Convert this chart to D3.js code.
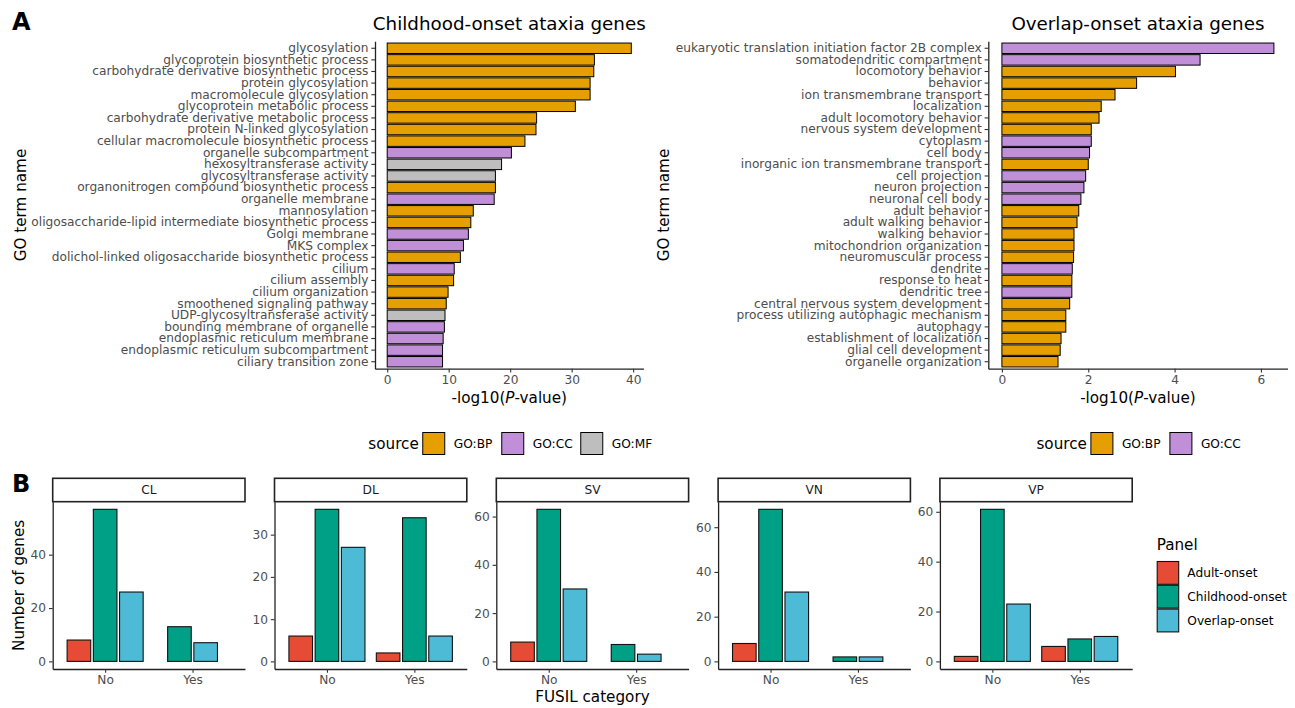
<!DOCTYPE html>
<html>
<head>
<meta charset="utf-8">
<script src="https://cdn.jsdelivr.net/npm/d3@7"></script>
<style>
  html, body { margin: 0; padding: 0; background: #fff; }
  svg { display: block; font-family: "DejaVu Sans", sans-serif; }
</style>
</head>
<body>
<svg id="fig" width="1295" height="708"></svg>
<script>
// ---- A: GO enrichment, childhood-onset genes ----
const childTerms = [
  "glycosylation", "glycoprotein biosynthetic process", "carbohydrate derivative biosynthetic process",
  "protein glycosylation", "macromolecule glycosylation", "glycoprotein metabolic process",
  "carbohydrate derivative metabolic process", "protein N-linked glycosylation",
  "cellular macromolecule biosynthetic process", "organelle subcompartment",
  "hexosyltransferase activity", "glycosyltransferase activity",
  "organonitrogen compound biosynthetic process", "organelle membrane", "mannosylation",
  "oligosaccharide-lipid intermediate biosynthetic process", "Golgi membrane", "MKS complex",
  "dolichol-linked oligosaccharide biosynthetic process", "cilium", "cilium assembly",
  "cilium organization", "smoothened signaling pathway", "UDP-glycosyltransferase activity",
  "bounding membrane of organelle", "endoplasmic reticulum membrane",
  "endoplasmic reticulum subcompartment", "ciliary transition zone"
];
const childValues = [
  39.7, 33.7, 33.6, 33.0, 33.0, 30.6, 24.3, 24.2, 22.4, 20.2, 18.6, 17.6, 17.6, 17.4,
  14.0, 13.6, 13.2, 12.4, 11.9, 10.9, 10.8, 9.9, 9.6, 9.4, 9.3, 9.1, 9.0, 9.0
];
const childSources = [
  "GO:BP", "GO:BP", "GO:BP", "GO:BP", "GO:BP", "GO:BP", "GO:BP", "GO:BP", "GO:BP", "GO:CC",
  "GO:MF", "GO:MF", "GO:BP", "GO:CC", "GO:BP", "GO:BP", "GO:CC", "GO:CC", "GO:BP", "GO:CC",
  "GO:BP", "GO:BP", "GO:BP", "GO:MF", "GO:CC", "GO:CC", "GO:CC", "GO:CC"
];
const childTicks = [0, 10, 20, 30, 40];

// ---- A: GO enrichment, overlap-onset genes ----
const overlapTerms = [
  "eukaryotic translation initiation factor 2B complex", "somatodendritic compartment",
  "locomotory behavior", "behavior", "ion transmembrane transport", "localization",
  "adult locomotory behavior", "nervous system development", "cytoplasm", "cell body",
  "inorganic ion transmembrane transport", "cell projection", "neuron projection",
  "neuronal cell body", "adult behavior", "adult walking behavior", "walking behavior",
  "mitochondrion organization", "neuromuscular process", "dendrite", "response to heat",
  "dendritic tree", "central nervous system development",
  "process utilizing autophagic mechanism", "autophagy", "establishment of localization",
  "glial cell development", "organelle organization"
];
const overlapValues = [
  6.30, 4.59, 4.02, 3.12, 2.62, 2.30, 2.25, 2.07, 2.07, 2.03, 2.00, 1.94, 1.90, 1.83,
  1.78, 1.74, 1.67, 1.67, 1.66, 1.63, 1.62, 1.62, 1.57, 1.48, 1.48, 1.37, 1.35, 1.30
];
const overlapSources = [
  "GO:CC", "GO:CC", "GO:BP", "GO:BP", "GO:BP", "GO:BP", "GO:BP", "GO:BP", "GO:CC", "GO:CC",
  "GO:BP", "GO:CC", "GO:CC", "GO:CC", "GO:BP", "GO:BP", "GO:BP", "GO:BP", "GO:BP", "GO:CC",
  "GO:BP", "GO:CC", "GO:BP", "GO:BP", "GO:BP", "GO:BP", "GO:BP", "GO:BP"
];
const overlapTicks = [0, 2, 4, 6];

const sourceLevels = ["GO:BP", "GO:CC", "GO:MF"];
const sourceColors = ["#E69F00", "#C08FD8", "#BEBEBE"];

// ---- B: gene counts by FUSIL category ----
const facetNames = ["CL", "DL", "SV", "VN", "VP"];
const fusilCategories = ["No", "Yes"];
const panelGroups = ["Adult-onset", "Childhood-onset", "Overlap-onset"];
const panelColors = ["#E64B35", "#00A087", "#4DBBD5"];
// per facet: [No, Yes]; null = no genes in that cell
const adultCounts     = [[8, null], [6, 2],  [8, null], [8, null], [2, 6]];
const childhoodCounts = [[57, 13],  [36, 34], [63, 7],  [68, 2],   [61, 9]];
const overlapCounts   = [[26, 7],   [27, 6],  [30, 3],  [31, 2],   [23, 10]];
const facetTicks = [[0, 20, 40], [0, 10, 20, 30], [0, 20, 40, 60], [0, 20, 40, 60], [0, 20, 40, 60]];

// ---- styling ----
const TXT_SMALL = 12.2, TXT_TITLE = 15.2, TXT_PLOT = 18.3;
const TICK_COL = "#4D4D4D", AXIS_COL = "#222";

const svg = d3.select("#fig");
svg.append("rect").attr("width", 1295).attr("height", 708).attr("fill", "#fff");

const srcColor = d3.scaleOrdinal().domain(sourceLevels).range(sourceColors);
const intFmt = d3.format("d");

function styleAxis(g) {
  g.select(".domain").attr("stroke", AXIS_COL).attr("stroke-width", 1.3);
  g.selectAll(".tick line").attr("stroke", "#333").attr("stroke-width", 1.1);
  g.selectAll(".tick text").attr("fill", TICK_COL).attr("font-size", TXT_SMALL)
    .attr("font-family", "DejaVu Sans");
}

function goPanel(o) {
  const g = svg.append("g");
  const M = d3.max(o.values);
  const x = d3.scaleLinear().domain([-0.05 * M, 1.05 * M]).range([o.x0, o.x1]);
  const y = d3.scaleBand().domain(o.terms).range([o.y0, o.y1])
    .paddingInner(0.1).paddingOuter(0.15);

  g.selectAll("rect.bar").data(o.terms).join("rect")
    .attr("class", "bar")
    .attr("x", x(0))
    .attr("y", d => y(d))
    .attr("width", (d, i) => x(o.values[i]) - x(0))
    .attr("height", y.bandwidth())
    .attr("fill", (d, i) => srcColor(o.sources[i]))
    .attr("stroke", "#000").attr("stroke-width", 1);

  g.append("g").attr("transform", `translate(${o.x0},0)`)
    .call(d3.axisLeft(y).tickSize(3.7).tickPadding(2.9).tickSizeOuter(0))
    .call(styleAxis);
  g.append("g").attr("transform", `translate(0,${o.y1})`)
    .call(d3.axisBottom(x).tickValues(o.ticks).tickFormat(intFmt)
      .tickSize(3.7).tickPadding(2.9).tickSizeOuter(0))
    .call(styleAxis);

  const cx = (o.x0 + o.x1) / 2;
  g.append("text").attr("x", cx).attr("y", 30).attr("text-anchor", "middle")
    .attr("font-size", TXT_PLOT).attr("fill", "#000").text(o.title);

  const xt = g.append("text").attr("x", cx).attr("y", 403).attr("text-anchor", "middle")
    .attr("font-size", TXT_TITLE).attr("fill", "#000");
  xt.append("tspan").text("-log10(");
  xt.append("tspan").attr("font-style", "italic").text("P");
  xt.append("tspan").text("-value)");

  g.append("text")
    .attr("transform", `translate(${o.ytitleX},${(o.y0 + o.y1) / 2}) rotate(-90)`)
    .attr("text-anchor", "middle").attr("dy", "0.35em")
    .attr("font-size", TXT_TITLE).attr("fill", "#000").text("GO term name");

  // source legend, centred under the panel
  const levels = sourceLevels.filter(s => o.sources.includes(s));
  const step = 79, key = 22, titleW = 50;
  const total = titleW + 4 + levels.length * step - 10;
  const lx = cx - total / 2, ly = 443.5;
  g.append("text").attr("x", lx + titleW).attr("y", ly).attr("dy", "0.35em")
    .attr("text-anchor", "end")
    .attr("font-size", TXT_TITLE).attr("fill", "#000").text("source");
  levels.forEach((s, i) => {
    const kx = lx + titleW + 4 + i * step;
    g.append("rect").attr("x", kx).attr("y", ly - key / 2).attr("width", key).attr("height", key)
      .attr("fill", srcColor(s)).attr("stroke", "#000").attr("stroke-width", 1);
    g.append("text").attr("x", kx + key + 9).attr("y", ly).attr("dy", "0.35em")
      .attr("font-size", TXT_SMALL).attr("fill", "#000").text(s);
  });
}

goPanel({ terms: childTerms, values: childValues, sources: childSources, ticks: childTicks,
  x0: 375, x1: 643.5, y0: 41.3, y1: 368.7, title: "Childhood-onset ataxia genes", ytitleX: 21 });
goPanel({ terms: overlapTerms, values: overlapValues, sources: overlapSources, ticks: overlapTicks,
  x0: 988.3, x1: 1287.5, y0: 41.3, y1: 368.7, title: "Overlap-onset ataxia genes", ytitleX: 664 });

// panel tags
svg.append("text").attr("x", 12).attr("y", 30).attr("font-size", 24).attr("font-weight", "bold")
  .attr("fill", "#000").text("A");
svg.append("text").attr("x", 12).attr("y", 492).attr("font-size", 24).attr("font-weight", "bold")
  .attr("fill", "#000").text("B");

// ---- B: faceted dodged bars ----
const groupCounts = [adultCounts, childhoodCounts, overlapCounts];
const fColor = d3.scaleOrdinal().domain(panelGroups).range(panelColors);
const fx0 = 52.7, fStep = 221.8, fW = 192.3;
const stripTop = 478.3, stripBot = 501.7, pBot = 669;

facetNames.forEach((name, f) => {
  const g = svg.append("g");
  const left = fx0 + f * fStep, right = left + fW;
  const M = d3.max(groupCounts, gc => d3.max(gc[f], v => v ?? 0));
  const y = d3.scaleLinear().domain([-0.05 * M, 1.05 * M]).range([pBot, stripBot]);
  const x = d3.scalePoint().domain(fusilCategories).range([left, right]).padding(0.6);
  const unit = x.step();
  const slot = 0.9 / panelGroups.length;   // dodge slot width, preserve = "single"
  const barW = slot * 0.9 * unit;          // padding 0.1 inside each slot

  fusilCategories.forEach((cat, c) => {
    const present = panelGroups
      .map((grp, k) => ({ grp, v: groupCounts[k][f][c] }))
      .filter(d => d.v !== null);
    present.forEach((d, i) => {
      const centre = x(cat) + (i - (present.length - 1) / 2) * slot * unit;
      g.append("rect")
        .attr("x", centre - barW / 2).attr("width", barW)
        .attr("y", y(d.v)).attr("height", y(0) - y(d.v))
        .attr("fill", fColor(d.grp)).attr("stroke", "#111").attr("stroke-width", 1.1);
    });
  });

  g.append("g").attr("transform", `translate(${left},0)`)
    .call(d3.axisLeft(y).tickValues(facetTicks[f]).tickFormat(intFmt)
      .tickSize(3.7).tickPadding(2.9).tickSizeOuter(0))
    .call(styleAxis);
  g.append("g").attr("transform", `translate(0,${pBot})`)
    .call(d3.axisBottom(x).tickSize(3.7).tickPadding(2.9).tickSizeOuter(0))
    .call(styleAxis);

  // strip
  g.append("rect").attr("x", left).attr("y", stripTop).attr("width", fW)
    .attr("height", stripBot - stripTop).attr("fill", "#fff")
    .attr("stroke", "#222").attr("stroke-width", 1.6);
  g.append("text").attr("x", (left + right) / 2).attr("y", (stripTop + stripBot) / 2)
    .attr("dy", "0.35em").attr("text-anchor", "middle")
    .attr("font-size", TXT_SMALL).attr("fill", "#1A1A1A").text(name);
});

svg.append("text").attr("x", fx0 + 2 * fStep + fW / 2).attr("y", 697).attr("dy", "0.35em")
  .attr("text-anchor", "middle").attr("font-size", TXT_TITLE).attr("fill", "#000")
  .text("FUSIL category");
svg.append("text")
  .attr("transform", `translate(18.5,${(stripBot + pBot) / 2}) rotate(-90)`)
  .attr("text-anchor", "middle").attr("dy", "0.35em")
  .attr("font-size", TXT_TITLE).attr("fill", "#000").text("Number of genes");

// Panel legend
const lg = svg.append("g");
lg.append("text").attr("x", 1156.7).attr("y", 545).attr("dy", "0.35em")
  .attr("font-size", TXT_TITLE).attr("fill", "#000").text("Panel");
panelGroups.forEach((grp, i) => {
  const ky = 561 + i * 23.8;
  lg.append("rect").attr("x", 1157.2).attr("y", ky + 0.5).attr("width", 21.5).attr("height", 22.8)
    .attr("fill", fColor(grp)).attr("stroke", "#111").attr("stroke-width", 1.1);
  lg.append("text").attr("x", 1187.3).attr("y", ky + 11.9).attr("dy", "0.35em")
    .attr("font-size", TXT_SMALL).attr("fill", "#000").text(grp);
});
</script>
</body>
</html>
